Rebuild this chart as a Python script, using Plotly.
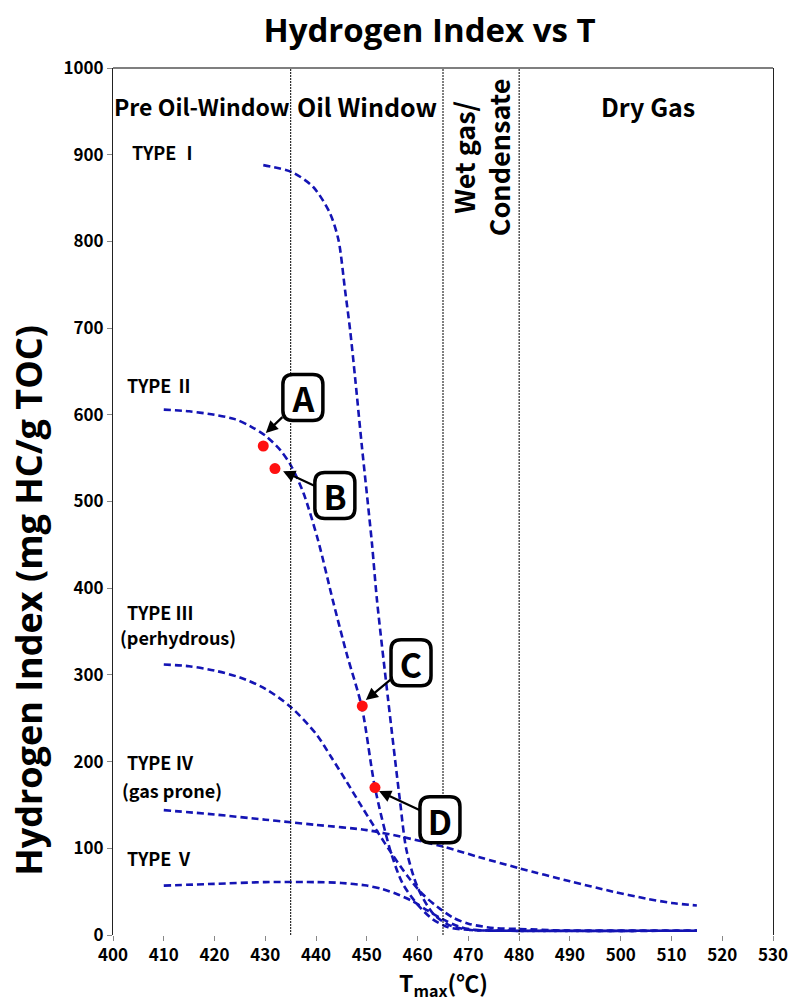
import plotly.graph_objects as go

# Hydrogen index evolution curves (Tmax in degC, HI in mg HC/g TOC)
type1_t = [429.6, 435.2, 439.4, 442.7, 444.4, 445.7, 446.7, 447.7, 449.0, 451.0, 452.0, 454.2, 456.5, 457.8, 460.0, 463.0, 466.0, 470.0, 475.0, 515.0]
type1_hi = [888, 880, 863, 833, 802, 744, 698, 642, 565, 452, 386, 271, 156, 98, 55, 25, 12, 6, 5, 5]

type2_t = [410, 415, 420, 424, 427, 430, 433, 435, 437.5, 440.4, 443.3, 446, 449, 451.6, 454.6, 457, 460, 463, 466, 470, 480, 515]
type2_hi = [606, 604, 600, 595, 587, 576, 559, 542, 510, 455, 386, 325, 263, 170, 98, 60, 35, 18, 9, 6, 5, 5]

type3_t = [410, 415, 420, 425, 430, 435, 440, 443, 446, 449, 452, 455, 458, 461, 464, 467, 470, 475, 480, 490, 515]
type3_hi = [312, 310, 305, 297, 284, 263, 232, 205, 177, 148, 120, 93, 68, 47, 32, 20, 13, 8, 7, 5, 5]

type4_t = [410, 420, 430, 435, 440, 450, 457, 465, 472, 480, 490, 498.5, 505, 510, 515]
type4_hi = [144, 139, 133, 130, 127, 121, 113, 102, 90, 77, 62, 50, 42, 37, 34]

type5_t = [410, 420, 430, 440, 445, 450, 453, 456, 459, 462, 465, 468, 471, 476, 515]
type5_hi = [57, 59, 61, 61, 60, 57, 53, 47, 39, 28, 18, 10, 6, 5, 5]

# Samples A-D
sample_names = ["A", "B", "C", "D"]
sample_t = [429.6, 431.9, 449.1, 451.6]
sample_hi = [564, 538, 264, 170]
# label box centres for each sample
label_t = [437.4, 443.7, 458.7, 464.4]
label_hi = [620, 507, 314, 133]
# arrow tips
tip_t = [430.1, 433.5, 449.8, 452.4]
tip_hi = [579, 535, 271, 166]

# maturity zone boundaries
zone_bounds = [435, 465, 480]

NBSP = "\u00a0"
type_labels = [
    ("TYPE" + NBSP + "Ⅰ", 403.3, 903),
    ("TYPE" + NBSP + "Ⅱ", 402.3, 634),
    ("TYPE" + NBSP + "Ⅲ", 402.3, 373),
    ("(perhydrous)", 401.0, 344),
    ("TYPE" + NBSP + "Ⅳ", 402.3, 199),
    ("(gas prone)", 401.4, 167),
    ("TYPE" + NBSP + "Ⅴ", 402.3, 89),
]

BLUE = "#1414b4"
FONT = "Noto Sans CJK KR"
WIDE = "Open Sans"

fig = go.Figure()

for t, hi in [(type1_t, type1_hi), (type2_t, type2_hi), (type3_t, type3_hi),
              (type4_t, type4_hi), (type5_t, type5_hi)]:
    fig.add_trace(go.Scatter(
        x=t, y=hi, mode="lines",
        line=dict(color=BLUE, width=2.6, dash="7px,4px", shape="spline", smoothing=0.8),
        showlegend=False, hoverinfo="skip"))

fig.add_trace(go.Scatter(
    x=sample_t, y=sample_hi, mode="markers",
    marker=dict(color="#ff1010", size=11),
    showlegend=False, hoverinfo="skip"))

shapes = []
for b in zone_bounds:
    shapes.append(dict(type="line", xref="x", yref="y", x0=b, x1=b, y0=0, y1=1000,
                       line=dict(color="black", width=1, dash="2px,1px")))
# top border
shapes.append(dict(type="line", xref="paper", yref="paper", x0=0, x1=1, y0=1, y1=1,
                   line=dict(color="#555555", width=1.5)))

# rounded label boxes (pixel-sized, anchored in data coordinates)
box_path = ("M -20,-13 L -20,13 Q -20,23 -10,23 L 10,23 Q 20,23 20,13 "
            "L 20,-13 Q 20,-23 10,-23 L -10,-23 Q -20,-23 -20,-13 Z")
for bx, by in zip(label_t, label_hi):
    shapes.append(dict(type="path", xref="x", yref="y", xsizemode="pixel", ysizemode="pixel",
                       xanchor=bx, yanchor=by, path=box_path, layer="above",
                       fillcolor="white", line=dict(color="black", width=3.5)))

annotations = []
for name, bx, by, tx, ty in zip(sample_names, label_t, label_hi, tip_t, tip_hi):
    annotations.append(dict(
        x=tx, y=ty, xref="x", yref="y", axref="x", ayref="y", ax=bx, ay=by,
        text=f"<b>{name}</b>", showarrow=True, arrowhead=2, arrowsize=1.1,
        arrowwidth=2.2, arrowcolor="black", width=36, height=42, borderpad=2,
        font=dict(family=FONT, size=34, color="black")))

for txt, x, y in type_labels:
    annotations.append(dict(x=x, y=y, xref="x", yref="y", text=f"<b>{txt}</b>",
                            showarrow=False, xanchor="left", yanchor="middle",
                            font=dict(family=FONT, size=18, color="black")))

zone_labels = [("Pre Oil-Window", 417.6, 23), ("Oil Window", 450.0, 25), ("Dry Gas", 505.4, 25)]
for txt, x, size in zone_labels:
    annotations.append(dict(x=x, y=956, xref="x", yref="y", text=f"<b>{txt}</b>",
                            showarrow=False, xanchor="center", yanchor="middle",
                            font=dict(family=FONT, size=size, color="black")))
annotations.append(dict(x=472.4, y=990, xref="x", yref="y",
                        text="<b>Wet gas/<br>Condensate</b>", textangle=-90,
                        showarrow=False, xanchor="center", yanchor="top",
                        font=dict(family=FONT, size=27, color="black")))

# axis titles
annotations.append(dict(x=-0.128, y=0.386, xref="paper", yref="paper",
                        text="<b>Hydrogen Index (mg HC/g TOC)</b>", textangle=-90,
                        showarrow=False, xanchor="center", yanchor="middle",
                        font=dict(family=WIDE, size=36, color="black")))
annotations.append(dict(x=0.5, y=-0.056, xref="paper", yref="paper",
                        text="<b>T<sub>max</sub>(℃)</b>",
                        showarrow=False, xanchor="center", yanchor="middle",
                        font=dict(family=FONT, size=23, color="black")))

tickfont = dict(family=FONT, size=17, color="black", weight="bold")
fig.update_layout(
    width=791, height=1005,
    margin=dict(l=113, r=18, t=68, b=70),
    paper_bgcolor="white", plot_bgcolor="white",
    title=dict(text="<b>Hydrogen Index vs T</b>", x=0.543, xref="container",
               xanchor="center", y=0.970, yref="container", yanchor="middle",
               font=dict(family=WIDE, size=33, color="black")),
    shapes=shapes, annotations=annotations,
    xaxis=dict(range=[400, 530], tickmode="array", tickvals=list(range(400, 531, 10)),
               showgrid=False, zeroline=False, showline=False, automargin=False,
               ticks="outside", ticklen=5, tickcolor="#888888", tickwidth=1,
               tickfont=tickfont),
    yaxis=dict(range=[0, 1000], tickmode="array", tickvals=list(range(0, 1001, 100)),
               showgrid=False, zeroline=False, showline=True, linecolor="#222222",
               linewidth=1.2, mirror=True, automargin=False,
               ticks="outside", ticklen=5, tickcolor="#888888", tickwidth=1,
               tickfont=tickfont),
)

fig.write_html("out.html")
